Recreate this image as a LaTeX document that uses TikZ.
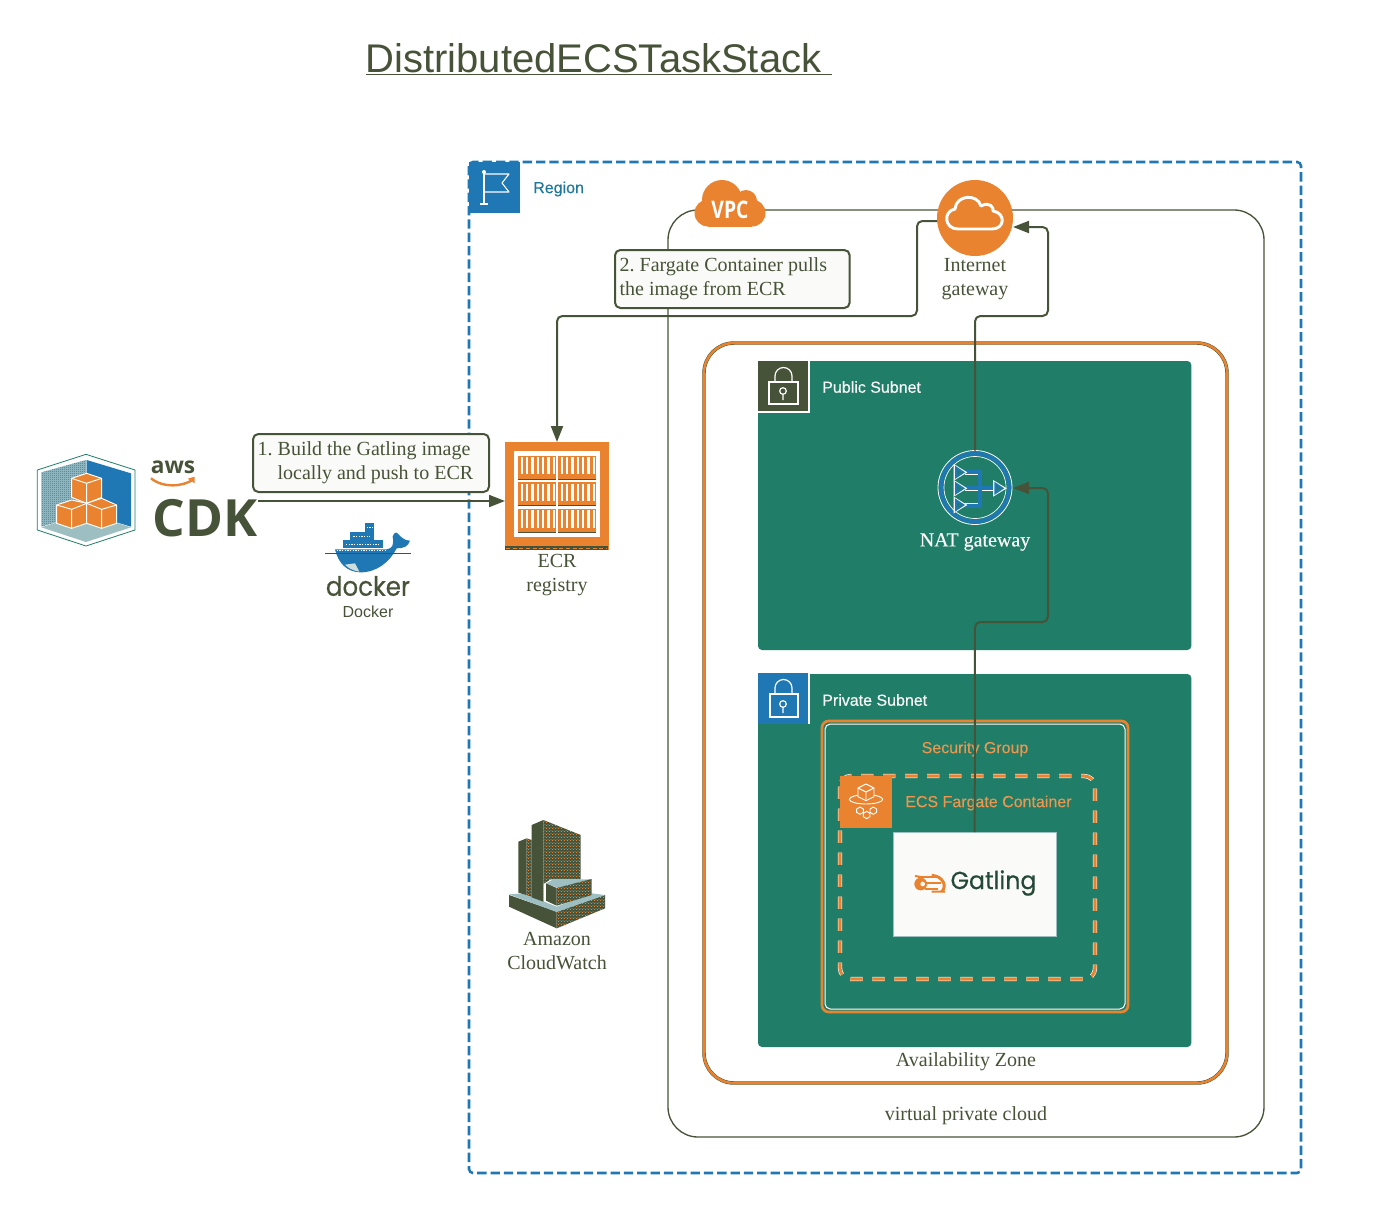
\documentclass[tikz,border=0pt]{standalone}
\usepackage{fontspec}
\usetikzlibrary{arrows.meta,calc,patterns}
\setmainfont{Liberation Serif}
\newfontfamily\lsans{Liberation Sans}
\newfontfamily\lsansfb[FakeBold=0.35]{Liberation Sans}
\newfontfamily\serfb[FakeBold=0.35]{Liberation Serif}
\newfontfamily\osans{Open Sans}
\newfontfamily\popf[FakeBold=0.5]{Poppins}
\definecolor{olive}{HTML}{475338}
\definecolor{teal1}{HTML}{1F7D68}
\definecolor{orng}{HTML}{E98330}
\definecolor{blu}{HTML}{1F77B4}
\definecolor{paper}{HTML}{FAFAF8}
\definecolor{haze}{HTML}{9DBFC2}
\pgfdeclarepatternformonly{specka}{\pgfqpoint{0pt}{0pt}}{\pgfqpoint{0.75pt}{0.75pt}}{\pgfqpoint{2.25pt}{2.25pt}}{\pgfpathrectangle{\pgfqpoint{0pt}{0pt}}{\pgfqpoint{0.75pt}{0.75pt}}\pgfusepath{fill}}
\pgfdeclarepatternformonly{speckb}{\pgfqpoint{0pt}{0pt}}{\pgfqpoint{2.25pt}{2.25pt}}{\pgfqpoint{2.25pt}{2.25pt}}{\pgfpathrectangle{\pgfqpoint{1.5pt}{0.75pt}}{\pgfqpoint{0.75pt}{0.75pt}}\pgfusepath{fill}}
\pgfdeclarepatternformonly{checker}{\pgfqpoint{0pt}{0pt}}{\pgfqpoint{1.5pt}{1.5pt}}{\pgfqpoint{1.5pt}{1.5pt}}{\pgfpathrectangle{\pgfqpoint{0pt}{0pt}}{\pgfqpoint{0.75pt}{0.75pt}}\pgfpathrectangle{\pgfqpoint{0.75pt}{0.75pt}}{\pgfqpoint{0.75pt}{0.75pt}}\pgfusepath{fill}}
\tikzset{
 lbl/.style={font=\fontsize{15}{18}\selectfont,text=olive,align=center,inner sep=0pt},
 sublbl/.style={font=\lsansfb\fontsize{12}{14}\selectfont,inner sep=0pt},
 callout/.style={draw=olive,line width=1.5pt,fill=paper,rounded corners=4pt,anchor=north west,inner xsep=3.5pt,inner ysep=0pt,align=left,font=\fontsize{15}{18}\selectfont\frenchspacing,text=olive},
 flow/.style={draw=olive,line width=1.5pt,rounded corners=4pt},
 flowarrow/.style={flow,-{Triangle[length=12pt,width=9pt]}},
 icon/.style={inner sep=0pt,outer sep=0pt,draw=none},
 whitep/.style={draw=white,line width=0.9pt,fill=none},
 cube/.style={fill=orng,draw=white,line width=0.7pt,line join=round},
}
\newcommand{\speckfill}[1]{%
 \fill[olive] #1;
 \fill[pattern=specka,pattern color=orng] #1;
 \fill[pattern=speckb,pattern color=haze] #1;
}
\begin{document}
\begin{tikzpicture}[x=0.75pt,y=-0.75pt]
\useasboundingbox[fill=white] (0,0) rectangle (1400,1210);

% title
\node[inner sep=0pt,font=\lsans\fontsize{30}{36}\selectfont,text=olive] (title) at (599,59.5) {\underline{DistributedECSTaskStack\ }};

% region
\node[icon,minimum width=624pt,minimum height=758.25pt,anchor=north west] (region) at (469,162) {};
\draw[blu,line width=1.9pt,dash pattern=on 7pt off 3pt,rounded corners=3pt] (region.north west) rectangle (region.south east);
\node[icon,fill=blu,minimum width=38.25pt,minimum height=38.25pt,anchor=north west] (regionicon) at (469,162) {};
\draw[white,line width=0.8pt] (484,172) -- (484,204) (480,204) -- (488,204);
\draw[white,line width=0.8pt,line join=round] (484,174) -- (509,174) -- (502,183) -- (509,192) -- (484,192);
\fill[white] (484,172) circle (2);
\node[sublbl,text=blu!70!teal1,anchor=west] (regionlabel) at (533,189) {Region};

% vpc
\node[icon,draw=olive,line width=1pt,rounded corners=22.5pt,minimum width=447pt,minimum height=695.25pt,anchor=north west] (vpcbox) at (668,210) {};
\node[lbl] (vpclabel) at (966,1116) {virtual private cloud};

% cloud vpc
\fill[orng] (722,200) circle (20);
\fill[orng] (746,201) circle (11);
\fill[orng] (708,213) circle (13.5);
\fill[orng] (752,213) circle (13.5);
\fill[orng] (708,205) rectangle (752,226.5);
\node[icon,font=\osans\bfseries\fontsize{14.5}{18}\selectfont,text=white,yscale=1.25] (vpc) at (730,210) {VPC};

% availability zone
\node[icon,minimum width=392.25pt,minimum height=555pt,anchor=north west] (az) at (704,343) {};
\draw[olive,line width=2.6pt,rounded corners=22.5pt] (az.north west) rectangle (az.south east);
\draw[orng,line width=1.9pt,rounded corners=22.5pt] (az.north west) rectangle (az.south east);
\node[lbl] (azlabel) at (966,1062) {Availability Zone};

% public subnet
\node[icon,fill=teal1,rounded corners=3pt,minimum width=325pt,minimum height=216.75pt,anchor=north west] (pub) at (758,361) {};
\node[icon,fill=olive,minimum width=38.25pt,minimum height=38.25pt,anchor=north west] (pubicon) at (758,361) {};
\draw[white,line width=0.8pt] (809,361) -- (809,412) -- (758,412);
\draw[whitep] (769,382) rectangle (798,404);
\draw[whitep] (775,382) -- (775,376) arc (180:360:8.5) -- (792,382);
\draw[whitep] (783,391) circle (3.3) (783,394.3) -- (783,400);
\node[sublbl,text=paper,anchor=west] (publabel) at (822,387) {Public Subnet};

% private subnet
\node[icon,fill=teal1,rounded corners=3pt,minimum width=325pt,minimum height=279.75pt,anchor=north west] (priv) at (758,674) {};
\node[icon,fill=blu,minimum width=38.25pt,minimum height=38.25pt,anchor=north west] (privicon) at (758,673) {};
\draw[white,line width=0.8pt] (809,673) -- (809,724);
\draw[whitep] (770,694) rectangle (798,717);
\draw[whitep] (775,694) -- (775,688) arc (180:360:8.5) -- (792,694);
\draw[whitep] (783,704) circle (3.3) (783,707.3) -- (783,713);
\node[sublbl,text=paper,anchor=west] (privlabel) at (822,700) {Private Subnet};

% security group
\node[icon,minimum width=229.5pt,minimum height=218.25pt,anchor=north west] (sg) at (822,721) {};
\draw[orng,line width=2pt,rounded corners=5pt] (sg.north west) rectangle (sg.south east);
\draw[white,line width=0.75pt,rounded corners=4pt] ($(sg.north west)+(3,3)$) rectangle ($(sg.south east)+(-3,-3)$);
\node[sublbl,text=orng!85!white,anchor=center] (sglabel) at (975,749) {Security Group};

% fargate
\node[icon,minimum width=191.25pt,minimum height=152.25pt,anchor=north west] (fg) at (840,776) {};
\draw[white,line width=3.2pt,dash pattern=on 9.2pt off 7.3pt,rounded corners=8pt] (fg.north west) rectangle (fg.south east);
\draw[orng,line width=2.3pt,dash pattern=on 9.2pt off 7.3pt,rounded corners=8pt] (fg.north west) rectangle (fg.south east);
\node[icon,fill=orng,minimum width=39pt,minimum height=39pt,anchor=north west] (fgicon) at (840,776) {};
\begin{scope}[shift={(750,660)},x=0.25pt,y=-0.25pt]
 \draw[white,line width=0.7pt] (348,418) ellipse (50 and 14);
 \draw[white,line width=0.7pt,fill=orng,line join=round] (348,372) -- (372,384) -- (372,410) -- (348,422) -- (324,410) -- (324,384) -- cycle;
 \draw[white,line width=0.7pt] (324,384) -- (348,396) -- (372,384) (348,396) -- (348,422);
 \foreach \cx/\cy in {330/452,350/465,370/452}{
  \draw[white,line width=0.7pt,fill=orng] (\cx,\cy-11) -- (\cx+10,\cy-5) -- (\cx+10,\cy+5) -- (\cx,\cy+11) -- (\cx-10,\cy+5) -- (\cx-10,\cy-5) -- cycle;
 }
\end{scope}
\node[sublbl,text=orng!85!white,anchor=west] (fglabel) at (905,803) {ECS Fargate Container};

% gatling
\node[icon,fill=paper,draw=haze,line width=0.6pt,minimum width=122.5pt,minimum height=78pt,anchor=north west] (gatling) at (893,832) {};
\begin{scope}[shift={(750,660)},x=0.25pt,y=-0.25pt]
 \fill[orng] (512,672) circle (19);
 \fill[paper] (518,672) circle (7);
 \draw[orng,line width=1.6pt] (505,652) -- (565,652) (525,670) -- (572,670) (525,688) -- (565,688);
 \draw[orng,line width=2.2pt] (545,646) .. controls (580,648) and (592,680) .. (575,695);
 \draw[orng,line width=1.5pt] (495,648) -- (520,652) (545,695) -- (585,695);
\end{scope}
\node[icon,font=\popf\fontsize{18.5}{24}\selectfont,text=olive!50!teal1!70!black,xscale=0.96] (gatlingtext) at (993.5,883) {Gatling};

% NAT
\node[icon,circle,minimum size=55.5pt] (nat) at (975,487.5) {};
\draw[white,line width=0.6pt] (nat.center) circle (37);
\draw[blu,line width=2.8pt] (nat.center) circle (34);
\draw[white,line width=0.5pt] (nat.center) circle (31);
\begin{scope}[shift={(750,350)},x=0.25pt,y=-0.25pt]
 \draw[white,line width=3.6pt] (645,367) -- (690,367) -- (690,467) -- (645,467) (645,415) -- (730,415);
 \draw[blu,line width=2.8pt] (645,367) -- (690,367) -- (690,467) -- (645,467) (645,415) -- (730,415);
 \foreach \ty in {367,415,465}{
  \fill[white] (611,\ty-25) -- (652,\ty) -- (611,\ty+25) -- cycle;
  \fill[blu] (615,\ty-20) -- (645,\ty) -- (615,\ty+20) -- cycle;
  \fill[teal1] (622,\ty-8) -- (634,\ty) -- (622,\ty+8) -- cycle;
 }
 \fill[white] (729,390) -- (770,415) -- (729,440) -- cycle;
 \fill[blu] (733,395) -- (763,415) -- (733,435) -- cycle;
 \fill[teal1] (740,407) -- (752,415) -- (740,423) -- cycle;
\end{scope}
\node[lbl,font=\serfb\fontsize{15}{18}\selectfont,text=paper] (natlabel) at (975,542) {NAT gateway};

% internet gateway
\node[icon,fill=orng,circle,minimum size=57pt] (igw) at (975,218) {};
\draw[white,line width=2.2pt,line join=round] (958,229) .. controls (944,229) and (943,211) .. (955,209) .. controls (956,195) and (977,193) .. (981,206) .. controls (990,201) and (994,208) .. (993,211) .. controls (1006,213) and (1005,229) .. (992,229) -- cycle;
\node[lbl] (igwlabel) at (975,279) {Internet\\[0pt]gateway};

% ECR
\node[icon,fill=orng,minimum width=78pt,minimum height=81pt] (ecr) at (557,496) {};
\begin{scope}[shift={(490,430)},x=0.25pt,y=-0.25pt]
 \fill[white] (72,62) rectangle (330,320);
 \foreach \cy in {77,157,237}{
  \foreach \cx in {85,205}{
   \fill[orng] (\cx,\cy) rectangle ++(112,70);
   \draw[olive,line width=0.3pt] (\cx,\cy+70) -- ++(112,0);
   \foreach \i in {0,...,6}{ \fill[white] (\cx+7+\i*16,\cy+4) rectangle ++(7,52); }
  }
 }
 \fill[olive] (45,348) rectangle (355,361);
 \draw[orng,line width=0.6pt,dash pattern=on 3pt off 2pt] (48,354) -- (352,354);
\end{scope}
\node[lbl] (ecrlabel) at (557,575) {ECR\\[0pt]registry};

% CloudWatch
\begin{scope}[shift={(490,810)},x=0.25pt,y=-0.25pt]
 \speckfill{(200,305) -- (345,255) -- (345,295) -- (200,355) -- cycle}
 \fill[olive] (57,255) -- (200,305) -- (200,355) -- (57,290) -- cycle;
 \fill[haze] (57,253) -- (100,250) -- (200,290) -- (305,250) -- (345,255) -- (200,306) -- cycle;
 \fill[olive] (85,95) -- (110,85) -- (110,255) -- (85,248) -- cycle;
 \speckfill{(110,85) -- (125,90) -- (125,260) -- (110,255) -- cycle}
 \fill[olive] (125,45) -- (160,30) -- (160,275) -- (125,262) -- cycle;
 \speckfill{(160,30) -- (272,75) -- (272,208) -- (182,208) -- (160,222) -- (160,275) -- cycle}
 \fill[haze] (168,220) -- (190,208) -- (305,208) -- (205,234) -- cycle;
 \fill[olive] (168,220) -- (200,234) -- (200,287) -- (168,272) -- cycle;
 \speckfill{(200,234) -- (305,207) -- (305,255) -- (200,287) -- cycle}
\end{scope}
\node[lbl] (cwlabel) at (557,951) {Amazon\\[0pt]CloudWatch};

% CDK logo
\begin{scope}[shift={(20,420)},x=0.25pt,y=-0.25pt]
 \fill[white] (198,103) -- (345,150) -- (345,330) -- (198,378) -- (52,330) -- (52,150) -- cycle;
 \draw[teal1,line width=0.6pt] (198,103) -- (345,150) -- (345,330) -- (198,378) -- (52,330) -- (52,150) -- cycle;
 \fill[haze] (64,157) -- (198,120) -- (198,280) -- (64,320) -- cycle;
 \fill[pattern=checker,pattern color=blu] (64,157) -- (198,120) -- (198,280) -- (64,320) -- cycle;
 \fill[blu] (200,120) -- (333,160) -- (333,320) -- (200,280) -- cycle;
 \fill[haze] (64,322) -- (198,280) -- (333,322) -- (198,366) -- cycle;
 \draw[cube] (200,160) -- (245,175) -- (245,232) -- (200,250) -- (155,232) -- (155,175) -- cycle;
 \draw[cube] (155,175) -- (200,190) -- (245,175) (200,190) -- (200,250);
 \draw[cube] (110,255) -- (155,240) -- (200,250) -- (200,310) -- (155,325) -- (110,310) -- cycle;
 \draw[cube] (110,255) -- (155,268) -- (200,250) (155,268) -- (155,325);
 \draw[cube] (200,250) -- (245,235) -- (290,255) -- (290,310) -- (245,325) -- (200,310) -- cycle;
 \draw[cube] (200,250) -- (245,268) -- (290,255) (245,268) -- (245,325);
 % smile
 \draw[orng,line width=1.8pt] (393,175) .. controls (430,205) and (490,200) .. (520,178);
 \fill[orng] (524,170) -- (524,190) -- (503,176) -- cycle;
\end{scope}
\node[icon,font=\osans\bfseries\fontsize{17}{24}\selectfont,text=olive] (awslogo) at (173,467) {aws};
\node[icon,font=\osans\bfseries\fontsize{38.5}{44}\selectfont,text=olive] (cdk) at (205,518) {CDK};

% docker
\begin{scope}[shift={(20,420)},x=0.25pt,y=-0.25pt]
 \fill[blu] (1035,310) rectangle (1063,336);
 \fill[blu] (990,336) rectangle (1063,360);
 \fill[blu] (968,360) rectangle (1088,385);
 \fill[blu] (1118,350) .. controls (1122,340) and (1126,335) .. (1130,338) .. controls (1140,345) and (1145,360) .. (1170,362) .. controls (1165,380) and (1150,385) .. (1130,385) .. controls (1110,425) and (1070,458) .. (1020,457) .. controls (980,455) and (955,430) .. (945,388) -- (1100,388) .. controls (1118,385) and (1122,375) .. (1118,350) -- cycle;
 \fill[haze!50!white] (975,434) -- (1005,430) -- (1018,455) .. controls (1000,452) and (985,445) .. (975,434) -- cycle;
 \draw[olive,line width=0.7pt] (915,401) -- (1172,401);
 \draw[paper,line width=0.4pt,dash pattern=on 1pt off 1pt] (950,392) -- (1100,392) (1000,348) -- (1050,348) (978,372) -- (1075,372) (1040,322) -- (1060,322);
\end{scope}
\node[icon,font=\popf\fontsize{20}{24}\selectfont,text=olive,xscale=0.92] (dockerlogo) at (368,586) {docker};
\node[icon,font=\lsans\fontsize{12}{14}\selectfont,text=olive] (dockerlabel) at (368,612) {Docker};

% connectors
\coordinate (cdkout) at (258,501);
\coordinate (ecrin) at (505,501);
\coordinate (igwout) at (937,221);
\coordinate (igwin) at (1013,227);
\coordinate (natin) at (1013,488);
\draw[flowarrow] (cdkout) -- (ecrin);
\draw[flowarrow] (igwout) -- (917,221) -- (917,316) -- (557,316) -- (ecr.north);
\draw[flowarrow] (nat.north) -- (975,316) -- (1048,316) -- (1048,227) -- (igwin);
\draw[flowarrow] (gatling.north) -- (975,622) -- (1048,622) -- (1048,488) -- (natin);

% callouts
\node[callout,minimum height=43.5pt] (step1) at (252,433) {\makebox[170pt][l]{1. Build the Gatling image}\\\makebox[170pt][l]{\hspace*{15pt}locally and push to ECR}};
\node[callout,minimum height=43.5pt] (step2) at (614,249) {\makebox[169pt][l]{2. Fargate Container pulls}\\\makebox[169pt][l]{the image from ECR}};
\end{tikzpicture}
\end{document}
